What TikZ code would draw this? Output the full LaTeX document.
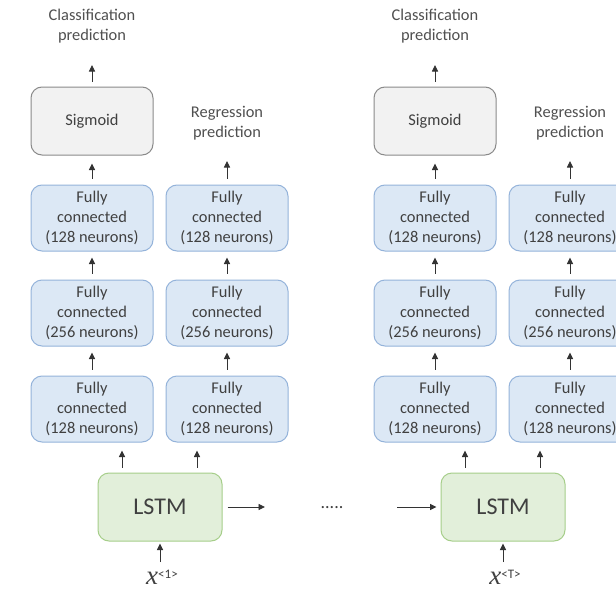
\documentclass[tikz,border=0pt]{standalone}
\usepackage{fontspec}
\setmainfont{Carlito}
\newfontfamily\varfont{Liberation Serif}
\usetikzlibrary{arrows.meta,calc}

\definecolor{txt}{HTML}{404040}
\definecolor{lbltxt}{HTML}{505050}
\definecolor{fcfill}{HTML}{DCE8F5}
\definecolor{fcedge}{HTML}{94B3DA}
\definecolor{sigfill}{HTML}{F2F2F2}
\definecolor{sigedge}{HTML}{8A8A8A}
\definecolor{lstmfill}{HTML}{E2EFDA}
\definecolor{lstmedge}{HTML}{A6CE8A}
\definecolor{arrgray}{HTML}{333333}

\newcommand{\invar}[1]{{\fontsize{27}{27}\selectfont\varfont\itshape x}\raisebox{6pt}{\fontsize{13}{13}\selectfont #1}}

\begin{document}
\begin{tikzpicture}[x=1pt,y=-1pt,
  font=\fontsize{16.4}{20}\selectfont,
  box/.style={rounded corners=11pt, minimum width=122pt, minimum height=66pt,
    align=center, text=txt, line width=1pt, inner sep=0pt},
  fc/.style={box, fill=fcfill, draw=fcedge},
  sig/.style={box, fill=sigfill, draw=sigedge, minimum height=68pt},
  lstm/.style={box, fill=lstmfill, draw=lstmedge, minimum width=124pt,
    minimum height=68pt, font=\fontsize{24}{28}\selectfont},
  lbl/.style={align=center, text=lbltxt, inner sep=0pt,
    font=\fontsize{16.4}{19.5}\selectfont},
  arr/.style={-{Triangle[length=6.5pt,width=6pt]}, line width=0.9pt, draw=arrgray}]

\useasboundingbox (0,0) rectangle (616,589);
\fill[white] (0,0) rectangle (616,589);

% two unrolled time steps, the second shifted to the right
\foreach \g/\dx/\xs in {A/0/1, B/343/T}{
  \begin{scope}[xshift=\dx pt]
    % output heads
    \node[sig] (sig\g) at (92,121) {Sigmoid};
    \node[lbl] (cls\g) at (92,26) {Classification\\prediction};
    \node[lbl] (reg\g) at (227,123) {Regression\\prediction};
    \coordinate (ctip\g) at (92,65);
    \coordinate (rtip\g) at (227,161);

    % fully connected stacks
    \node[fc] (fcL1\g) at (92,409) {Fully\\connected\\(128 neurons)};
    \node[fc] (fcL2\g) at (92,313) {Fully\\connected\\(256 neurons)};
    \node[fc] (fcL3\g) at (92,218) {Fully\\connected\\(128 neurons)};
    \node[fc] (fcR1\g) at (227,409) {Fully\\connected\\(128 neurons)};
    \node[fc] (fcR2\g) at (227,313) {Fully\\connected\\(256 neurons)};
    \node[fc] (fcR3\g) at (227,218) {Fully\\connected\\(128 neurons)};

    % recurrent cell and its input
    \node[lstm] (lstm\g) at (160,507) {LSTM};
    \node[anchor=base, inner sep=0pt, text=txt] (in\g) at (162,584) {\invar{<\xs>}};
    \coordinate (inb\g) at (160,562);

    \coordinate (la\g) at ([xshift=-38pt]lstm\g.north);
    \coordinate (lb\g) at ([xshift=37pt]lstm\g.north);

    % connectors
    \draw[arr, shorten <=5pt] (sig\g.north) -- (ctip\g);
    \draw[arr, shorten <=6pt, shorten >=8pt] (fcL3\g) -- (sig\g);
    \draw[arr, shorten <=6pt] (fcR3\g.north) -- (rtip\g);
    \draw[arr, shorten <=6pt, shorten >=6pt] (fcL2\g) -- (fcL3\g);
    \draw[arr, shorten <=6pt, shorten >=6pt] (fcR2\g) -- (fcR3\g);
    \draw[arr, shorten <=6pt, shorten >=6pt] (fcL1\g) -- (fcL2\g);
    \draw[arr, shorten <=6pt, shorten >=6pt] (fcR1\g) -- (fcR2\g);
    \draw[arr, shorten <=5pt, shorten >=8pt] (la\g) -- (la\g |- fcL1\g.south);
    \draw[arr, shorten <=5pt, shorten >=8pt] (lb\g) -- (lb\g |- fcR1\g.south);
    \draw[arr, shorten >=2pt] (inb\g) -- (lstm\g.south);
  \end{scope}
}

% recurrence between the time steps
\node[text=txt, font=\fontsize{18}{18}\selectfont] (dots) at (332,508) {.....};
\coordinate (hout) at (265,507);
\coordinate (hin) at (397,507);
\draw[arr, shorten <=5pt] (lstmA.east) -- (hout);
\draw[arr, shorten >=4pt] (hin) -- (lstmB.west);
\end{tikzpicture}
\end{document}
